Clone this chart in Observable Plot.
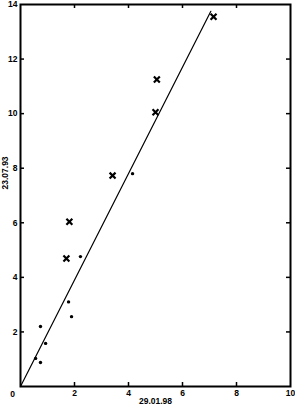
<!DOCTYPE html>
<html>
<head>
<meta charset="utf-8">
<script src="https://cdn.jsdelivr.net/npm/d3@7"></script>
<script src="https://cdn.jsdelivr.net/npm/@observablehq/plot@0.6"></script>
<style>
  html, body { margin: 0; padding: 0; background: #fff; }
  svg { font-family: "Liberation Sans", Arial, sans-serif; }
</style>
</head>
<body>
<div id="chart"></div>
<script>
// Crosses (x marks)
const crossX = [1.70, 1.81, 3.41, 5.00, 5.05, 7.15];
const crossY = [4.69, 6.04, 7.73, 10.05, 11.25, 13.55];
// Dots
const dotX = [0.56, 0.74, 0.74, 0.93, 1.78, 1.89, 2.22, 4.15];
const dotY = [1.03, 0.88, 2.20, 1.58, 3.10, 2.56, 4.76, 7.80];
// Fitted line end points
const lineX = [0, 7.05];
const lineY = [0, 13.75];
// Ticks
const xTicks = [2, 4, 6, 8];
const xTickLabels = [2, 4, 6, 8, 10];
const yTicks = [2, 4, 6, 8, 10, 12];
const yTickLabels = [2, 4, 6, 8, 10, 12, 14];
const originLabel = ["0"];
const xLabel = "29.01.98";
const yLabel = "23.07.93";

const crosses = crossX.map((x, i) => ({x, y: crossY[i]}));
const dots = dotX.map((x, i) => ({x, y: dotY[i]}));
const line = lineX.map((x, i) => ({x, y: lineY[i]}));

const W = 295, H = 409;
const mL = 20, mR = 5, mT = 4, mB = 23;
const tick = 4;

const chart = Plot.plot({
  width: W,
  height: H,
  marginLeft: mL,
  marginRight: mR,
  marginTop: mT,
  marginBottom: mB,
  x: {domain: [0, 10]},
  y: {domain: [0, 14]},
  style: {fontSize: "8.5px", fontWeight: "bold", color: "black", background: "white"},
  marks: [
    Plot.frame({stroke: "black", strokeWidth: 2}),
    // inward ticks bottom & top
    Plot.ruleX(xTicks, {stroke: "black", strokeWidth: 1.5, insetTop: H - mT - mB - tick}),
    Plot.ruleX(xTicks, {stroke: "black", strokeWidth: 1.5, insetBottom: H - mT - mB - tick}),
    // inward ticks left & right
    Plot.ruleY(yTicks, {stroke: "black", strokeWidth: 1.5, insetRight: W - mL - mR - tick}),
    Plot.ruleY(yTicks, {stroke: "black", strokeWidth: 1.5, insetLeft: W - mL - mR - tick}),
    Plot.axisX(xTickLabels, {tickSize: 0, tickPadding: 3, fontSize: 8.5, fontWeight: "bold", label: null}),
    Plot.axisY(yTickLabels, {tickSize: 0, tickPadding: 3, fontSize: 8.5, fontWeight: "bold", label: null}),
    Plot.text(originLabel, {x: 0, y: 0, text: d => d, dx: -8, dy: 8, fontSize: 8.5, fontWeight: "bold"}),
    Plot.text([xLabel], {frameAnchor: "bottom", dy: 17, text: d => d, fontSize: 8.5, fontWeight: "bold", letterSpacing: "0.5px"}),
    Plot.text([yLabel], {frameAnchor: "left", rotate: -90, dx: -15, dy: -6, text: d => d, fontSize: 8.5, fontWeight: "bold", letterSpacing: "0.5px"}),
    Plot.line(line, {x: "x", y: "y", stroke: "black", strokeWidth: 1.2}),
    Plot.dot(dots, {x: "x", y: "y", r: 1.7, fill: "black", stroke: "none"}),
    Plot.dot(crosses, {x: "x", y: "y", symbol: "times", r: 2.8, stroke: "black", strokeWidth: 2.2})
  ]
});
document.getElementById("chart").appendChild(chart);
</script>
</body>
</html>
